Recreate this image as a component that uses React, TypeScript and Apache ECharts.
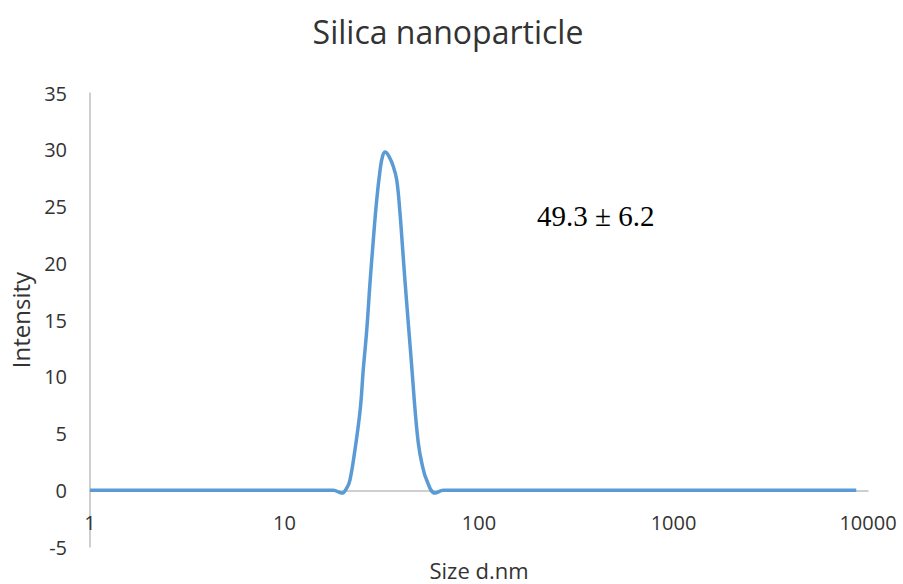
import React, { useEffect, useRef } from "react";
import * as echarts from "echarts";

const chartTitle = "Silica nanoparticle";
const xAxisName = "Size d.nm";
const yAxisName = "Intensity";
const annotation = "49.3 ± 6.2";

// Particle size (nm) and intensity (%)
const sizes = [
  1, 17.8, 19.75, 20.9, 21.7, 23.0, 24.5, 25.4, 26.5, 27.5, 28.6, 29.8, 31.0,
  31.9, 32.9, 34.5, 36.3, 37.8, 39.3, 40.4, 41.7, 43.3, 45.1, 46.9, 48.8, 50.8,
  53.8, 59.4, 65.6, 8700,
];
const intensity = [
  0, 0, -0.25, 0.2, 0.9, 3.5, 7.1, 10.6, 14.2, 18.2, 22.0, 25.6, 28.2, 29.4,
  29.8, 29.4, 28.5, 27.3, 24.3, 21.5, 18.3, 14.7, 10.9, 7.1, 4.1, 2.4, 0.9,
  -0.25, 0, 0,
];

const yMin = -5;
const yMax = 35;
const yStep = 5;
const xMin = 1;
const xMax = 10000;

export default function App() {
  const ref = useRef<HTMLDivElement>(null);
  useEffect(() => {
    if (!ref.current) return;
    const chart = echarts.init(ref.current, undefined, { renderer: "svg" });
    const font = "'Open Sans', sans-serif";
    const gray = "#BFBFBF";
    const text = "#333333";
    chart.setOption({
      animation: false,
      backgroundColor: "#ffffff",
      grid: {
        left: 90,
        right: 35,
        top: 93,
        bottom: 37,
        containLabel: false,
        outerBoundsMode: "none",
      },
      graphic: [
        {
          type: "text",
          x: 448,
          y: 31,
          style: {
            text: chartTitle,
            font: `32px ${font}`,
            fill: text,
            textAlign: "center",
            textVerticalAlign: "middle",
          },
        },
        {
          type: "text",
          x: 537,
          y: 216,
          style: {
            text: annotation,
            font: "29px 'Liberation Serif', 'Times New Roman', serif",
            fill: "#000000",
            textAlign: "left",
            textVerticalAlign: "middle",
          },
        },
      ],
      xAxis: {
        type: "log",
        logBase: 10,
        min: xMin,
        max: xMax,
        name: xAxisName,
        nameLocation: "middle",
        nameGap: 12,
        nameTextStyle: { fontFamily: font, fontSize: 22, color: text },
        axisLine: { onZero: true, lineStyle: { color: gray, width: 1.5 } },
        axisTick: { show: false },
        axisLabel: {
          margin: -35,
          fontFamily: font,
          fontSize: 20,
          color: text,
          formatter: (v: number) => String(Math.round(v)),
        },
        splitLine: { show: false },
        minorSplitLine: { show: false },
      },
      yAxis: {
        type: "value",
        min: yMin,
        max: yMax,
        interval: yStep,
        name: yAxisName,
        nameLocation: "middle",
        nameGap: 58,
        nameTextStyle: { fontFamily: font, fontSize: 24, color: text },
        axisLine: { show: true, lineStyle: { color: gray, width: 1.5 } },
        axisTick: { show: false },
        axisLabel: { margin: 23, fontFamily: font, fontSize: 20, color: text },
        splitLine: { show: false },
      },
      series: [
        {
          type: "line",
          data: sizes.map((s, i) => [s, intensity[i]]),
          showSymbol: false,
          smooth: 0.4,
          lineStyle: { color: "#5B9BD5", width: 3.5 },
          itemStyle: { color: "#5B9BD5" },
        },
      ],
    });
    return () => chart.dispose();
  }, []);
  return <div ref={ref} style={{ width: 903, height: 584, position: "absolute", left: 0, top: 0 }} />;
}
